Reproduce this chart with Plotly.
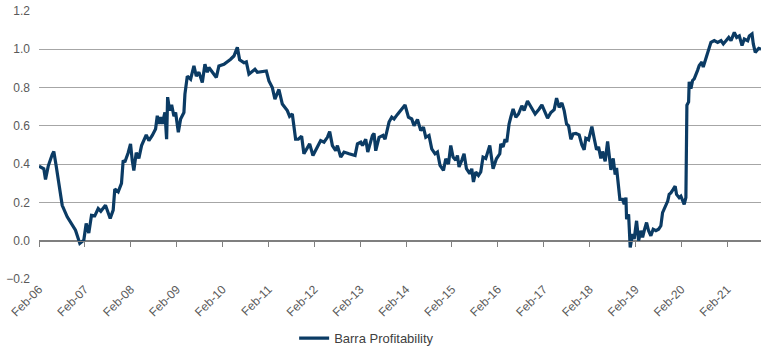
import pandas as pd
import plotly.graph_objects as go

series_name = "Barra Profitability"

# decimal-year positions
years = [
    2006.085, 2006.190, 2006.227, 2006.286, 2006.373, 2006.408, 2006.460, 2006.591, 2006.700, 2006.881,
    2006.975, 2007.062, 2007.114, 2007.171, 2007.230, 2007.302, 2007.376, 2007.433, 2007.535, 2007.579,
    2007.638, 2007.703, 2007.738, 2007.812, 2007.884, 2007.921, 2007.956, 2008.030, 2008.081, 2008.118,
    2008.153, 2008.205, 2008.262, 2008.321, 2008.371, 2008.423, 2008.480, 2008.554, 2008.626, 2008.663,
    2008.698, 2008.735, 2008.772, 2008.829, 2008.866, 2008.888, 2008.931, 2008.975, 2009.025, 2009.062,
    2009.121, 2009.171, 2009.243, 2009.265, 2009.317, 2009.389, 2009.461, 2009.513, 2009.570, 2009.644,
    2009.701, 2009.753, 2009.788, 2009.862, 2009.950, 2010.006, 2010.116, 2010.262, 2010.334, 2010.408,
    2010.458, 2010.552, 2010.604, 2010.661, 2010.735, 2010.792, 2010.844, 2010.953, 2011.040, 2011.097,
    2011.171, 2011.228, 2011.315, 2011.389, 2011.498, 2011.548, 2011.607, 2011.679, 2011.738, 2011.810,
    2011.860, 2011.985, 2012.057, 2012.153, 2012.225, 2012.297, 2012.371, 2012.421, 2012.480, 2012.552,
    2012.589, 2012.661, 2012.733, 2012.842, 2012.973, 2013.025, 2013.097, 2013.134, 2013.206, 2013.250,
    2013.293, 2013.352, 2013.387, 2013.424, 2013.496, 2013.583, 2013.627, 2013.714, 2013.773, 2013.823,
    2013.897, 2013.932, 2014.006, 2014.063, 2014.137, 2014.209, 2014.259, 2014.334, 2014.406, 2014.464,
    2014.515, 2014.586, 2014.645, 2014.717, 2014.770, 2014.826, 2014.901, 2014.951, 2015.010, 2015.060,
    2015.110, 2015.169, 2015.206, 2015.241, 2015.300, 2015.350, 2015.402, 2015.474, 2015.518, 2015.555,
    2015.605, 2015.664, 2015.714, 2015.764, 2015.823, 2015.911, 2015.983, 2016.056, 2016.129, 2016.150,
    2016.201, 2016.244, 2016.281, 2016.331, 2016.368, 2016.419, 2016.478, 2016.536, 2016.608, 2016.658,
    2016.732, 2016.804, 2016.898, 2016.986, 2017.045, 2017.169, 2017.241, 2017.313, 2017.365, 2017.422,
    2017.481, 2017.531, 2017.583, 2017.627, 2017.677, 2017.727, 2017.786, 2017.858, 2017.917, 2017.967,
    2018.003, 2018.063, 2018.135, 2018.185, 2018.237, 2018.281, 2018.331, 2018.368, 2018.425, 2018.478,
    2018.512, 2018.550, 2018.600, 2018.643, 2018.674, 2018.718, 2018.746, 2018.805, 2018.840, 2018.878,
    2018.892, 2018.936, 2018.949, 2018.971, 2019.022, 2019.058, 2019.110, 2019.154, 2019.204, 2019.241,
    2019.276, 2019.328, 2019.372, 2019.422, 2019.472, 2019.531, 2019.590, 2019.640, 2019.677, 2019.734,
    2019.789, 2019.821, 2019.858, 2019.908, 2019.952, 2019.982, 2020.039, 2020.076, 2020.113, 2020.148,
    2020.185, 2020.207, 2020.244, 2020.257, 2020.294, 2020.331, 2020.366, 2020.403, 2020.439, 2020.475,
    2020.534, 2020.562, 2020.606, 2020.658, 2020.730, 2020.802, 2020.876, 2020.949, 2020.999, 2021.058,
    2021.117, 2021.167, 2021.239, 2021.291, 2021.348, 2021.407, 2021.457, 2021.531, 2021.566, 2021.625,
    2021.653, 2021.696, 2021.727, 2021.771, 2021.821,
]

values = [
    0.39, 0.376, 0.32, 0.39, 0.45, 0.466, 0.39, 0.185, 0.125, 0.055,
    -0.014, 0.003, 0.09, 0.04, 0.133, 0.13, 0.168, 0.154, 0.185, 0.16,
    0.116, 0.16, 0.27, 0.255, 0.30, 0.42, 0.41, 0.46, 0.506, 0.42,
    0.367, 0.46, 0.43, 0.497, 0.53, 0.553, 0.523, 0.55, 0.584, 0.653,
    0.61, 0.645, 0.61, 0.67, 0.53, 0.75, 0.68, 0.71, 0.65, 0.67,
    0.567, 0.636, 0.67, 0.766, 0.86, 0.844, 0.913, 0.86, 0.88, 0.827,
    0.922, 0.88, 0.905, 0.88, 0.853, 0.913, 0.922, 0.948, 0.965, 1.01,
    0.945, 0.93, 0.934, 0.87, 0.887, 0.896, 0.88, 0.882, 0.887, 0.835,
    0.80, 0.74, 0.79, 0.714, 0.68, 0.65, 0.662, 0.53, 0.53, 0.546,
    0.454, 0.506, 0.445, 0.49, 0.523, 0.515, 0.54, 0.57, 0.497, 0.47,
    0.497, 0.437, 0.463, 0.454, 0.445, 0.506, 0.515, 0.497, 0.53, 0.463,
    0.506, 0.55, 0.56, 0.47, 0.54, 0.55, 0.53, 0.62, 0.645, 0.636,
    0.66, 0.67, 0.688, 0.709, 0.645, 0.636, 0.60, 0.633, 0.575, 0.593,
    0.54, 0.55, 0.48, 0.454, 0.463, 0.393, 0.367, 0.428, 0.40, 0.497,
    0.437, 0.42, 0.445, 0.385, 0.42, 0.454, 0.376, 0.35, 0.376, 0.307,
    0.359, 0.341, 0.359, 0.437, 0.43, 0.497, 0.376, 0.428, 0.454, 0.506,
    0.49, 0.53, 0.515, 0.61, 0.645, 0.688, 0.645, 0.662, 0.705, 0.68,
    0.73, 0.70, 0.662, 0.688, 0.709, 0.64, 0.67, 0.685, 0.745, 0.697,
    0.72, 0.68, 0.61, 0.60, 0.53, 0.558, 0.56, 0.553, 0.50, 0.475,
    0.535, 0.527, 0.596, 0.535, 0.475, 0.49, 0.43, 0.466, 0.415, 0.518,
    0.45, 0.37, 0.43, 0.345, 0.38, 0.294, 0.216, 0.216, 0.19, 0.225,
    0.112, 0.138, 0.052, -0.035, 0.035, 0.009, 0.104, 0.0, 0.052, 0.017,
    0.052, 0.095, 0.052, 0.026, 0.06, 0.052, 0.06, 0.078, 0.147, 0.181,
    0.207, 0.242, 0.25, 0.268, 0.285, 0.242, 0.225, 0.233, 0.207, 0.19,
    0.225, 0.708, 0.725, 0.83, 0.794, 0.837, 0.846, 0.864, 0.89, 0.915,
    0.933, 0.907, 0.94, 0.99, 1.036, 1.045, 1.036, 1.045, 1.028, 1.045,
    1.062, 1.045, 1.088, 1.062, 1.07, 1.02, 1.054, 1.045, 1.07, 1.08,
    1.028, 0.984, 0.993, 1.005, 1.0,
]

y_ticks = [-0.2, 0.0, 0.2, 0.4, 0.6, 0.8, 1.0, 1.2]
x_tick_start = "2006-02-01"


def to_date(y):
    yr = int(y)
    start = pd.Timestamp(year=yr, month=1, day=1)
    end = pd.Timestamp(year=yr + 1, month=1, day=1)
    return start + (y - yr) * (end - start)


dates = [to_date(y) for y in years]
x_range = [dates[0], dates[-1]]

LINE = "#0B3B64"
GRID = "#A6A6A6"
TXT = "#595959"
FONT = "Liberation Sans, Arial, sans-serif"

fig = go.Figure()
fig.add_trace(go.Scatter(
    x=dates, y=values, mode="lines", name=series_name,
    line=dict(color=LINE, width=3.2),
))
# invisible copy so the zero-crossing tick axis is drawn
fig.add_trace(go.Scatter(
    x=dates, y=values, mode="lines", xaxis="x2", showlegend=False,
    hoverinfo="skip", opacity=0, line=dict(width=1),
))

fig.update_layout(
    width=770, height=348,
    margin=dict(l=39, r=9, t=11, b=69, autoexpand=False),
    paper_bgcolor="white", plot_bgcolor="white",
    font=dict(family=FONT, size=12, color=TXT),
    showlegend=True,
    legend=dict(
        orientation="h", xref="container", yref="container",
        x=0.382, xanchor="left", y=0.028, yanchor="middle",
        font=dict(size=13, color="#404040"), bgcolor="rgba(0,0,0,0)",
    ),
    xaxis=dict(
        type="date", range=x_range, tick0=x_tick_start, dtick="M12",
        tickformat="%b-%y", tickangle=-45, showgrid=False, zeroline=False,
        showline=False, ticks="", tickfont=dict(size=12, color=TXT),
        automargin=False,
    ),
    xaxis2=dict(
        type="date", range=x_range, tick0=x_tick_start, dtick="M12",
        overlaying="x", anchor="free", position=(0 - y_ticks[0]) / (y_ticks[-1] - y_ticks[0]),
        side="bottom", showticklabels=False, showgrid=False, zeroline=False,
        showline=True, linecolor="#7F7F7F", linewidth=1,
        ticks="outside", ticklen=5, tickcolor="#7F7F7F", tickwidth=1,
        automargin=False,
    ),
    yaxis=dict(
        range=[y_ticks[0], y_ticks[-1]], tickvals=y_ticks, tickformat=".1f",
        showgrid=True, gridcolor=GRID, gridwidth=1,
        zeroline=True, zerolinecolor="#7F7F7F", zerolinewidth=1,
        showline=False, ticks="", ticklabelstandoff=8,
        tickfont=dict(size=12, color=TXT), automargin=False,
    ),
)

fig.write_html("out.html")
